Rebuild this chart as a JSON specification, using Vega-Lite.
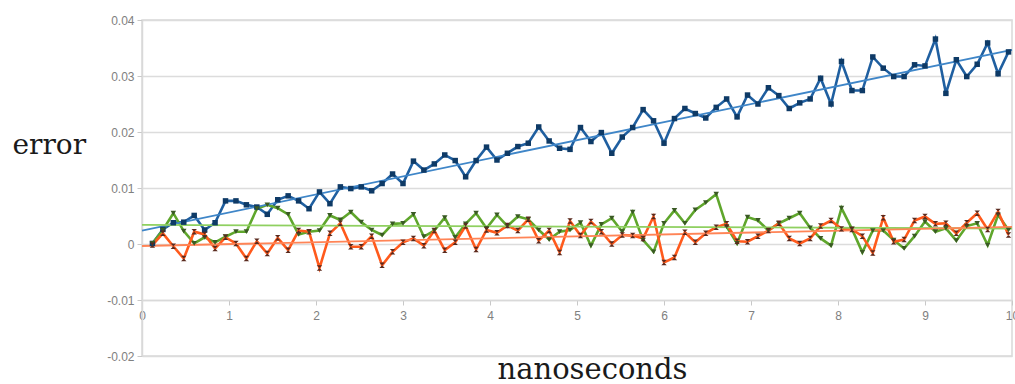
{
  "$schema": "https://vega.github.io/schema/vega-lite/v6.json",
  "width": 870,
  "height": 336,
  "autosize": {"type": "none"},
  "padding": {"left": 142, "top": 20, "right": 3, "bottom": 28},
  "background": "white",
  "config": {"view": {"stroke": "#d9d9d9", "strokeWidth": 1.5}},
  "data": {"values": [
    {"x":0.12,"blue":0.0001,"green":0.0001,"orange":-0.0002},
    {"x":0.24,"blue":0.0026,"green":0.0025,"orange":0.0019},
    {"x":0.36,"blue":0.0038,"green":0.0055,"orange":-0.0004},
    {"x":0.48,"blue":0.0039,"green":0.0023,"orange":-0.0026},
    {"x":0.60,"blue":0.0051,"green":0.0001,"orange":0.0022},
    {"x":0.72,"blue":0.0025,"green":0.0012,"orange":0.0017},
    {"x":0.84,"blue":0.0038,"green":0.0003,"orange":-0.0008},
    {"x":0.96,"blue":0.0077,"green":0.0013,"orange":0.0012},
    {"x":1.08,"blue":0.0077,"green":0.0022,"orange":0.0001},
    {"x":1.20,"blue":0.0070,"green":0.0022,"orange":-0.0026},
    {"x":1.32,"blue":0.0066,"green":0.0063,"orange":0.0005},
    {"x":1.44,"blue":0.0053,"green":0.0070,"orange":-0.0017},
    {"x":1.56,"blue":0.0079,"green":0.0064,"orange":0.0011},
    {"x":1.68,"blue":0.0086,"green":0.0053,"orange":-0.0011},
    {"x":1.80,"blue":0.0077,"green":0.0017,"orange":0.0024},
    {"x":1.92,"blue":0.0063,"green":0.0022,"orange":0.0022},
    {"x":2.04,"blue":0.0093,"green":0.0024,"orange":-0.0043},
    {"x":2.16,"blue":0.0072,"green":0.0051,"orange":0.0019},
    {"x":2.28,"blue":0.0102,"green":0.0043,"orange":0.0037},
    {"x":2.40,"blue":0.0099,"green":0.0057,"orange":-0.0005},
    {"x":2.52,"blue":0.0102,"green":0.0039,"orange":-0.0005},
    {"x":2.64,"blue":0.0095,"green":0.0025,"orange":0.0014},
    {"x":2.76,"blue":0.0108,"green":0.0016,"orange":-0.0038},
    {"x":2.88,"blue":0.0125,"green":0.0036,"orange":-0.0014},
    {"x":3.00,"blue":0.0108,"green":0.0037,"orange":0.0003},
    {"x":3.12,"blue":0.0148,"green":0.0053,"orange":0.0010},
    {"x":3.24,"blue":0.0132,"green":0.0013,"orange":-0.0003},
    {"x":3.36,"blue":0.0143,"green":0.0024,"orange":0.0024},
    {"x":3.48,"blue":0.0159,"green":0.0047,"orange":-0.0011},
    {"x":3.60,"blue":0.0149,"green":0.0012,"orange":0.0003},
    {"x":3.72,"blue":0.0120,"green":0.0036,"orange":0.0032},
    {"x":3.84,"blue":0.0149,"green":0.0055,"orange":-0.0010},
    {"x":3.96,"blue":0.0173,"green":0.0028,"orange":0.0025},
    {"x":4.08,"blue":0.0150,"green":0.0052,"orange":0.0020},
    {"x":4.20,"blue":0.0162,"green":0.0032,"orange":0.0033},
    {"x":4.32,"blue":0.0174,"green":0.0049,"orange":0.0024},
    {"x":4.44,"blue":0.0180,"green":0.0044,"orange":0.0044},
    {"x":4.56,"blue":0.0209,"green":0.0025,"orange":0.0006},
    {"x":4.68,"blue":0.0184,"green":0.0008,"orange":0.0024},
    {"x":4.80,"blue":0.0171,"green":0.0022,"orange":-0.0015},
    {"x":4.92,"blue":0.0169,"green":0.0025,"orange":0.0041},
    {"x":5.04,"blue":0.0208,"green":0.0038,"orange":0.0015},
    {"x":5.16,"blue":0.0183,"green":-0.0003,"orange":0.0040},
    {"x":5.28,"blue":0.0199,"green":0.0035,"orange":0.0022},
    {"x":5.40,"blue":0.0162,"green":0.0046,"orange":0.0000},
    {"x":5.52,"blue":0.0191,"green":0.0022,"orange":0.0016},
    {"x":5.64,"blue":0.0208,"green":0.0057,"orange":0.0015},
    {"x":5.76,"blue":0.0240,"green":0.0007,"orange":0.0010},
    {"x":5.88,"blue":0.0220,"green":-0.0014,"orange":0.0049},
    {"x":6.00,"blue":0.0180,"green":0.0037,"orange":-0.0033},
    {"x":6.12,"blue":0.0224,"green":0.0060,"orange":-0.0024},
    {"x":6.24,"blue":0.0242,"green":0.0037,"orange":0.0021},
    {"x":6.36,"blue":0.0233,"green":0.0061,"orange":0.0003},
    {"x":6.48,"blue":0.0225,"green":0.0074,"orange":0.0019},
    {"x":6.60,"blue":0.0244,"green":0.0089,"orange":0.0030},
    {"x":6.72,"blue":0.0259,"green":0.0031,"orange":0.0036},
    {"x":6.84,"blue":0.0227,"green":0.0001,"orange":0.0005},
    {"x":6.96,"blue":0.0266,"green":0.0048,"orange":0.0004},
    {"x":7.08,"blue":0.0250,"green":0.0042,"orange":0.0014},
    {"x":7.20,"blue":0.0279,"green":0.0024,"orange":0.0024},
    {"x":7.32,"blue":0.0265,"green":0.0037,"orange":0.0037},
    {"x":7.44,"blue":0.0242,"green":0.0046,"orange":0.0010},
    {"x":7.56,"blue":0.0252,"green":0.0055,"orange":0.0001},
    {"x":7.68,"blue":0.0259,"green":0.0029,"orange":0.0010},
    {"x":7.80,"blue":0.0296,"green":0.0010,"orange":0.0032},
    {"x":7.92,"blue":0.0250,"green":-0.0003,"orange":0.0042},
    {"x":8.04,"blue":0.0326,"green":0.0064,"orange":0.0027},
    {"x":8.16,"blue":0.0274,"green":0.0027,"orange":0.0026},
    {"x":8.28,"blue":0.0274,"green":-0.0015,"orange":0.0014},
    {"x":8.40,"blue":0.0334,"green":0.0024,"orange":-0.0016},
    {"x":8.52,"blue":0.0314,"green":0.0024,"orange":0.0047},
    {"x":8.64,"blue":0.0299,"green":0.0007,"orange":0.0004},
    {"x":8.76,"blue":0.0299,"green":-0.0008,"orange":0.0008},
    {"x":8.88,"blue":0.0320,"green":0.0014,"orange":0.0042},
    {"x":9.00,"blue":0.0318,"green":0.0040,"orange":0.0049},
    {"x":9.12,"blue":0.0366,"green":0.0022,"orange":0.0036},
    {"x":9.24,"blue":0.0269,"green":0.0028,"orange":0.0037},
    {"x":9.36,"blue":0.0329,"green":0.0006,"orange":0.0019},
    {"x":9.48,"blue":0.0299,"green":0.0032,"orange":0.0038},
    {"x":9.60,"blue":0.0321,"green":0.0037,"orange":0.0055},
    {"x":9.72,"blue":0.0359,"green":-0.0002,"orange":0.0026},
    {"x":9.84,"blue":0.0304,"green":0.0052,"orange":0.0058},
    {"x":9.96,"blue":0.0343,"green":0.0025,"orange":0.0016}
  ]},
  "transform": [{"fold": ["blue", "green", "orange"], "as": ["s", "v"]}],
  "encoding": {
    "x": {
      "field": "x", "type": "quantitative",
      "scale": {"domain": [0, 10], "nice": false, "zero": false},
      "axis": {
        "values": [0,1,2,3,4,5,6,7,8,9,10],
        "format": "d",
        "offset": -56,
        "grid": false,
        "labelFlush": false,
        "domainColor": "#d9d9d9", "domainWidth": 1.5,
        "tickColor": "#c8c8c8", "tickSize": 5,
        "labelColor": "#808080", "labelFont": "Liberation Sans", "labelFontSize": 12, "labelPadding": 5,
        "title": "nanoseconds",
        "titleFont": "DejaVu Serif", "titleFontSize": 29, "titleFontWeight": "normal", "titleColor": "#1a1a1a",
        "titleX": 450, "titleY": 78, "titleAlign": "center", "titleBaseline": "alphabetic"
      }
    },
    "y": {
      "field": "v", "type": "quantitative",
      "scale": {"domain": [-0.02, 0.04], "nice": false, "zero": false},
      "axis": {
        "values": [-0.02, -0.01, 0, 0.01, 0.02, 0.03, 0.04],
        "labelExpr": "datum.value == 0 ? '0' : replace(format(datum.value, '.2f'), '\u2212', '-')",
        "grid": true, "gridColor": "#dcdcdc", "gridWidth": 1.5,
        "domainColor": "#d9d9d9", "domainWidth": 1.5,
        "tickColor": "#c8c8c8", "tickSize": 5,
        "labelColor": "#808080", "labelFont": "Liberation Sans", "labelFontSize": 12, "labelPadding": 3,
        "title": "error",
        "titleFont": "DejaVu Serif", "titleFontSize": 28, "titleFontWeight": "normal", "titleColor": "#1a1a1a",
        "titleAngle": 0, "titleX": -130, "titleY": 133, "titleAlign": "left", "titleBaseline": "alphabetic"
      }
    }
  },
  "layer": [
    {
      "mark": {"type": "line", "strokeWidth": 2.6},
      "encoding": {
        "color": {"field": "s", "type": "nominal",
          "scale": {"domain": ["blue", "green", "orange"], "range": ["#1f5fa0", "#5fa62c", "#ff5a1c"]},
          "legend": null}
      }
    },
    {
      "transform": [{"regression": "v", "on": "x", "groupby": ["s"], "extent": [0, 10]}],
      "mark": {"type": "line", "strokeWidth": 1.8},
      "encoding": {
        "stroke": {"field": "s", "type": "nominal",
          "scale": {"domain": ["blue", "green", "orange"], "range": ["#3f86c8", "#8fd060", "#ff8456"]},
          "legend": null}
      }
    },
    {
      "mark": {"type": "point", "filled": true, "size": 30, "opacity": 1},
      "encoding": {
        "shape": {"field": "s", "type": "nominal",
          "scale": {"domain": ["blue", "green", "orange"], "range": ["square", "triangle-down", "M-1,-1L1,-1L-1,1L1,1Z"]},
          "legend": null},
        "fill": {"field": "s", "type": "nominal",
          "scale": {"domain": ["blue", "green", "orange"], "range": ["#0e3a66", "#3a5a24", "#5a2a1e"]},
          "legend": null}
      }
    }
  ]
}
